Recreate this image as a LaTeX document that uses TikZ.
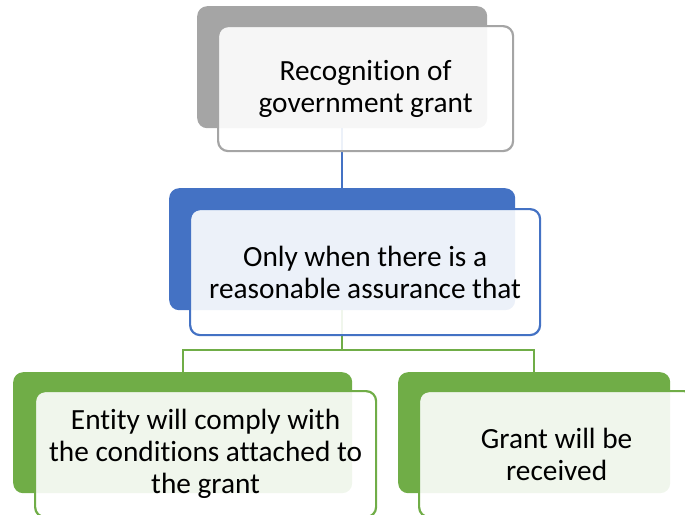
\documentclass[tikz,border=0pt]{standalone}
\usepackage{fontspec}
\setmainfont{Carlito}[Ligatures=NoCommon]
\definecolor{cgray}{HTML}{A5A5A5}
\definecolor{cblue}{HTML}{4472C4}
\definecolor{cgreen}{HTML}{70AD47}
\begin{document}
\begin{tikzpicture}[x=1pt,y=-1pt,
  back/.style={rounded corners=10pt, draw=none, inner sep=0pt, anchor=north west},
  front/.style={rounded corners=10pt, line width=2.2pt, fill=white, fill opacity=0.9, text opacity=1,
    align=center, font=\fontsize{29.3}{32}\selectfont, text=black, inner sep=0pt, anchor=north west},
  conn/.style={line width=2pt}]
\useasboundingbox (0,0) rectangle (685,514);
\clip (0,0) rectangle (685,514);
% back rectangles
\node[back, fill=cgray, minimum width=290pt, minimum height=122pt] (b1) at (197,6) {};
\node[back, fill=cblue, minimum width=346pt, minimum height=122pt] (b2) at (169,188) {};
\node[back, fill=cgreen, minimum width=339pt, minimum height=121pt] (b3) at (13,372) {};
\node[back, fill=cgreen, minimum width=272pt, minimum height=121pt] (b4) at (398,372) {};
% connectors
\draw[conn, cblue] (b1.south) -- (b2.north);
\draw[conn, cgreen] (b2.south) -- ++(0,40) coordinate (j) -| (b3.north);
\draw[conn, cgreen] (j) -| (b4.north);
% front boxes
\node[front, draw=cgray, minimum width=295pt, minimum height=125pt] (f1) at (217,25) {Recognition of\\government grant};
\node[front, draw=cblue, minimum width=350pt, minimum height=126pt] (f2) at (189,208) {Only when there is a\\reasonable assurance that};
\node[front, draw=cgreen, minimum width=341pt, minimum height=126pt] (f3) at (34,390) {Entity will comply with\\the conditions attached to\\the grant};
\node[front, draw=cgreen, minimum width=275pt, minimum height=126pt] (f4) at (418,390) {Grant will be\\received};
\end{tikzpicture}
\end{document}
